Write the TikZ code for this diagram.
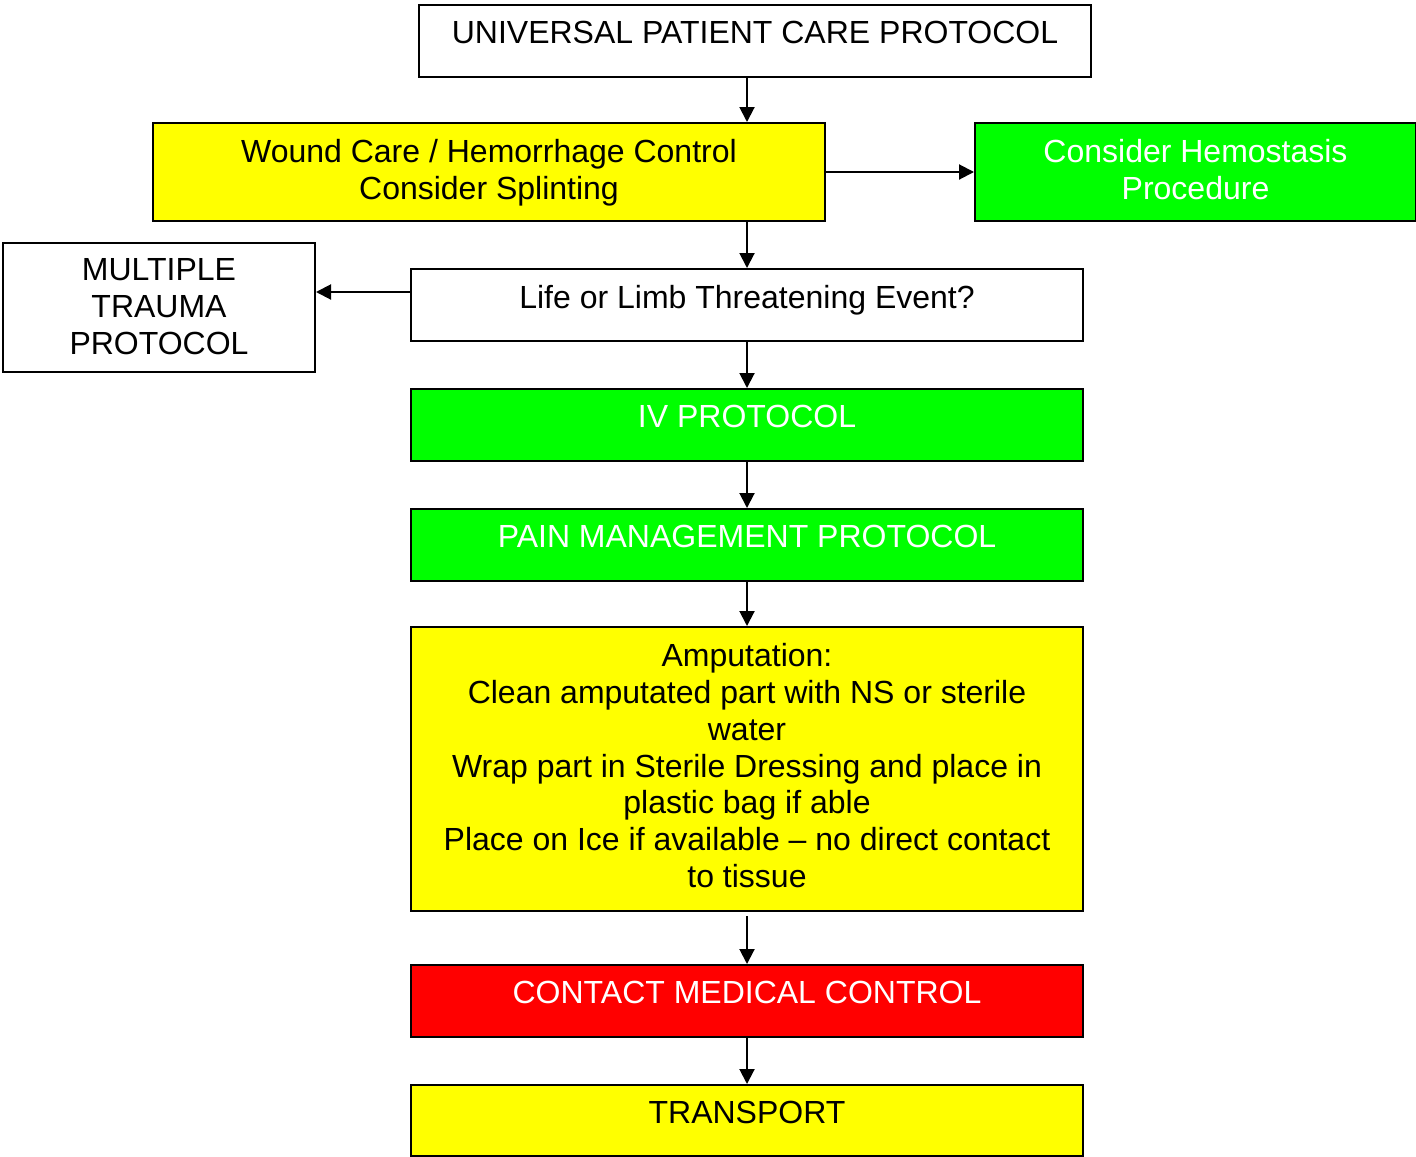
\documentclass[tikz,border=0pt]{standalone}
\usepackage{fontspec}
\setmainfont{Liberation Sans}
\usetikzlibrary{arrows.meta}
\definecolor{boxyellow}{HTML}{FFFF00}
\definecolor{boxgreen}{HTML}{00FF00}
\definecolor{boxred}{HTML}{FF0000}
\tikzset{
  box/.style={draw=black, line width=1pt, inner sep=0pt, anchor=north west},
  txt/.style={inner sep=0pt, anchor=north, align=center, font=\fontsize{16}{18.4}\selectfont},
  conn/.style={line width=1pt, -{Triangle[length=7.5pt,width=7.5pt]}},
}
\begin{document}
\begin{tikzpicture}[x=0.5pt,y=-0.5pt]
\useasboundingbox (0,0) rectangle (1416,1156);
% boxes
\node[box, fill=white, minimum width=336pt, minimum height=36pt] (univ) at (418,4) {};
\node[box, fill=boxyellow, minimum width=336pt, minimum height=49pt] (wound) at (152,122) {};
\node[box, fill=boxgreen, minimum width=220.5pt, minimum height=49pt] (hemo) at (974,122) {};
\node[box, fill=white, minimum width=156pt, minimum height=64.5pt] (multi) at (2,242) {};
\node[box, fill=white, minimum width=336pt, minimum height=36pt] (life) at (410,268) {};
\node[box, fill=boxgreen, minimum width=336pt, minimum height=36pt] (iv) at (410,388) {};
\node[box, fill=boxgreen, minimum width=336pt, minimum height=36pt] (pain) at (410,508) {};
\node[box, fill=boxyellow, minimum width=336pt, minimum height=142pt] (amp) at (410,626) {};
\node[box, fill=boxred, minimum width=336pt, minimum height=36pt] (contact) at (410,964) {};
\node[box, fill=boxyellow, minimum width=336pt, minimum height=35.5pt] (trans) at (410,1084) {};
% texts
\node[txt] (univt) at ([yshift=-8.5pt]univ.north) {UNIVERSAL PATIENT CARE PROTOCOL};
\node[txt] (woundt) at ([yshift=-8.5pt]wound.north) {Wound Care / Hemorrhage Control\\Consider Splinting};
\node[txt, text=white] (hemot) at ([yshift=-8.5pt]hemo.north) {Consider Hemostasis\\Procedure};
\node[txt] (multit) at ([yshift=-8.25pt]multi.north) {MULTIPLE\\TRAUMA\\PROTOCOL};
\node[txt] (lifet) at ([yshift=-8.5pt]life.north) {Life or Limb Threatening Event?};
\node[txt, text=white] (ivt) at ([yshift=-8.5pt]iv.north) {IV PROTOCOL};
\node[txt, text=white] (paint) at ([yshift=-8.5pt]pain.north) {PAIN MANAGEMENT PROTOCOL};
\node[txt] (ampt) at ([yshift=-8.5pt]amp.north) {Amputation:\\Clean amputated part with NS or sterile\\water\\Wrap part in Sterile Dressing and place in\\plastic bag if able\\Place on Ice if available -- no direct contact\\to tissue};
\node[txt, text=white] (contactt) at ([yshift=-8.5pt]contact.north) {CONTACT MEDICAL CONTROL};
\node[txt] (transt) at ([yshift=-8.5pt]trans.north) {TRANSPORT};
% connectors
\draw[conn] (life.north |- univ.south) -- (life.north |- wound.north);
\draw[conn] (wound.east) -- (hemo.west);
\draw[conn] (life.north |- wound.south) -- (life.north);
\draw[conn] (life.west |- 0,292) -- (multi.east |- 0,292);
\draw[conn] (life.south) -- (iv.north);
\draw[conn] (iv.south) -- (pain.north);
\draw[conn] (pain.south) -- (amp.north);
\draw[conn] ([yshift=-2pt]amp.south) -- (contact.north);
\draw[conn] (contact.south) -- (trans.north);
\end{tikzpicture}
\end{document}
